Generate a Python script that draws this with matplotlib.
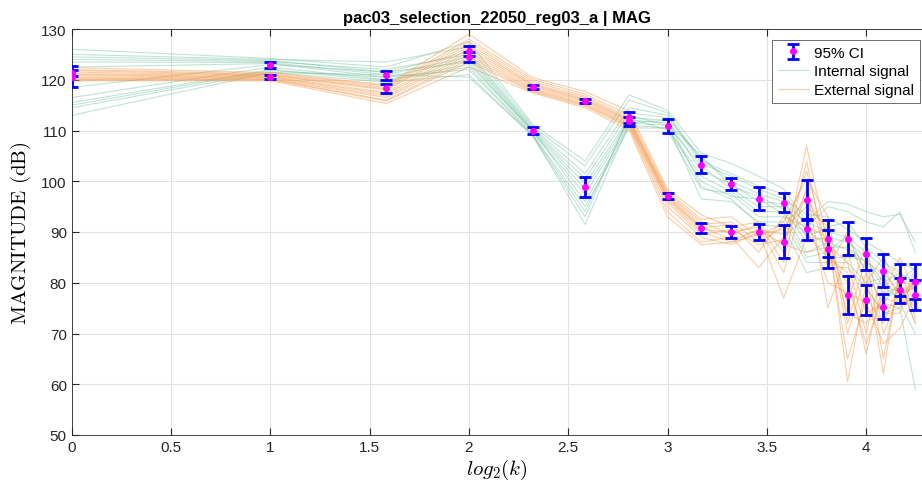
import numpy as np
import matplotlib
matplotlib.use("Agg")
from matplotlib import pyplot as plt

plt.rcParams['font.family'] = ['Liberation Sans', 'DejaVu Sans']
plt.rcParams['mathtext.fontset'] = 'cm'

# k = 1..19, plotted on log2 scale
k = np.arange(1, 20)

# internal signal, one row per realisation
internal = [
    [126.0, 124.2, 122.5, 127.5, 111.2, 104.0, 117.0, 114.0, 105.5, 103.5, 101.0, 98.5, 92.0, 96.0, 95.5, 94.0, 93.0, 93.5, 88.0],
    [125.0, 124.0, 123.5, 126.5, 110.8, 103.0, 116.0, 113.5, 104.0, 101.5, 99.0, 97.5, 91.0, 95.0, 94.0, 92.0, 91.0, 94.0, 86.0],
    [124.5, 123.8, 121.5, 125.5, 110.5, 101.5, 114.5, 113.0, 103.5, 101.0, 98.5, 96.5, 93.5, 93.0, 90.5, 88.0, 86.0, 84.0, 82.5],
    [124.0, 123.6, 122.0, 125.0, 110.2, 100.5, 113.5, 112.5, 104.5, 100.0, 97.5, 96.0, 89.0, 91.0, 92.0, 87.0, 84.0, 82.0, 80.0],
    [123.5, 123.4, 121.0, 124.5, 110.0, 99.5, 112.5, 112.0, 102.0, 99.5, 96.0, 95.5, 92.0, 90.0, 89.0, 86.0, 83.0, 80.5, 83.0],
    [122.5, 123.2, 120.5, 124.0, 109.8, 98.5, 112.0, 111.5, 105.0, 99.0, 97.0, 94.5, 88.0, 89.0, 88.0, 85.0, 80.0, 82.0, 78.0],
    [118.5, 123.0, 121.5, 123.5, 109.5, 97.5, 111.5, 111.0, 103.0, 98.5, 95.0, 95.0, 90.5, 87.0, 87.0, 84.0, 82.0, 78.0, 76.0],
    [116.5, 122.5, 120.0, 123.0, 110.0, 96.0, 111.0, 110.5, 101.0, 98.0, 94.0, 94.0, 86.0, 88.0, 86.5, 83.0, 78.0, 79.0, 74.0],
    [115.5, 122.0, 119.8, 122.5, 109.2, 95.0, 110.5, 110.5, 100.0, 97.0, 96.5, 93.5, 89.5, 85.0, 85.0, 84.5, 79.0, 77.0, 80.0],
    [115.0, 121.8, 120.5, 122.0, 109.0, 94.0, 112.5, 110.0, 98.5, 97.5, 93.0, 93.0, 85.0, 86.0, 89.5, 82.0, 76.0, 80.0, 72.0],
    [114.5, 121.5, 119.5, 121.0, 108.8, 93.0, 113.0, 111.0, 96.5, 96.0, 92.0, 92.0, 84.0, 84.0, 84.0, 80.0, 81.0, 76.0, 70.0],
    [113.0, 121.4, 121.0, 120.5, 109.0, 91.5, 111.5, 112.0, 99.0, 96.5, 91.5, 91.0, 82.0, 83.0, 83.0, 79.0, 74.0, 75.0, 59.0],
]

# external signal
external = [
    [122.4, 121.4, 119.0, 129.0, 120.4, 117.7, 113.8, 98.4, 93.4, 91.0, 92.0, 86.0, 107.0, 87.5, 84.0, 70.0, 83.0, 77.0, 79.5],
    [122.0, 121.2, 118.8, 128.0, 120.0, 117.2, 113.0, 98.0, 92.5, 93.0, 89.0, 92.0, 100.5, 93.0, 72.0, 85.0, 65.0, 82.0, 76.0],
    [121.8, 121.0, 118.5, 127.5, 119.6, 116.8, 112.5, 97.6, 92.0, 89.5, 91.5, 84.0, 104.0, 83.0, 90.0, 79.0, 74.0, 74.0, 82.0],
    [121.5, 120.9, 118.2, 127.0, 119.2, 116.5, 112.2, 97.3, 91.5, 92.0, 88.0, 91.0, 96.5, 90.0, 60.5, 80.0, 85.0, 79.0, 75.0],
    [121.2, 120.8, 118.0, 126.5, 119.0, 116.2, 112.0, 97.0, 91.0, 88.5, 90.5, 89.5, 102.0, 86.0, 80.0, 68.0, 78.0, 85.0, 78.0],
    [121.0, 120.6, 117.5, 126.0, 118.8, 116.0, 111.8, 96.8, 90.8, 91.5, 86.0, 93.0, 91.0, 89.0, 76.0, 88.0, 70.0, 78.0, 80.0],
    [120.8, 120.5, 117.2, 125.5, 118.5, 115.8, 111.5, 96.5, 90.5, 90.0, 91.0, 82.0, 99.0, 75.0, 86.0, 74.0, 76.0, 75.0, 83.0],
    [120.5, 120.4, 116.8, 125.0, 118.2, 115.5, 111.2, 96.2, 90.0, 88.0, 89.5, 90.5, 95.0, 91.0, 70.0, 82.0, 62.0, 83.0, 73.0],
    [120.3, 120.2, 116.5, 124.5, 118.0, 115.2, 111.0, 95.8, 89.5, 90.5, 87.5, 88.5, 98.0, 85.0, 82.0, 66.0, 80.0, 78.0, 79.0],
    [120.1, 120.1, 116.0, 124.0, 117.8, 115.0, 110.8, 95.0, 89.0, 87.5, 90.0, 77.0, 89.0, 88.5, 65.0, 77.0, 72.0, 80.0, 72.0],
    [120.0, 120.0, 115.8, 123.5, 117.6, 114.8, 110.5, 94.0, 88.0, 89.0, 83.0, 89.0, 93.0, 80.0, 78.0, 76.0, 68.0, 71.0, 77.5],
    [119.8, 119.8, 115.3, 122.5, 117.4, 114.5, 110.0, 93.0, 87.5, 88.0, 90.5, 87.5, 86.0, 87.0, 74.0, 72.0, 77.0, 76.0, 77.0],
]

# mean and 95% CI half widths
int_mean = [120.6, 122.9, 120.9, 124.5, 110.0, 98.8, 112.6, 110.9, 103.3, 99.5, 96.6, 95.8, 90.5, 88.7, 88.7, 85.7, 82.4, 80.5, 80.2]
int_ci = [2.1, 0.6, 0.9, 1.0, 0.6, 2.0, 1.1, 1.4, 1.7, 1.2, 2.3, 1.9, 2.0, 3.7, 3.2, 3.2, 3.2, 3.2, 3.5]
ext_mean = [121.4, 120.6, 118.3, 125.7, 118.6, 115.8, 111.8, 97.1, 90.8, 90.0, 90.0, 88.1, 96.3, 86.6, 77.6, 76.6, 75.3, 78.5, 77.6]
ext_ci = [0.6, 0.4, 0.9, 1.0, 0.4, 0.4, 0.9, 0.6, 1.0, 1.2, 1.6, 3.3, 3.9, 3.7, 3.7, 3.0, 2.4, 2.5, 3.0]

x = np.log2(k)

fig = plt.figure(figsize=(9.22, 4.89), dpi=100)
ax = fig.add_axes([71.7/922, 53/489, 1 - 71.7/922, 406/489])

for i, row in enumerate(internal):
    ax.plot(x, row, color='#66bb98', lw=0.8, alpha=0.4,
            label='Internal signal' if i == 0 else None)
for i, row in enumerate(external):
    ax.plot(x, row, color='#f5923e', lw=0.8, alpha=0.45,
            label='External signal' if i == 0 else None)

ax.errorbar(x, int_mean, yerr=int_ci, fmt='o', color='b', ecolor='b', elinewidth=2,
            capsize=4.5, capthick=2, mfc='magenta', mec='magenta', ms=4, zorder=5,
            label='95% CI')
ax.errorbar(x, ext_mean, yerr=ext_ci, fmt='o', color='b', ecolor='b', elinewidth=2,
            capsize=4.5, capthick=2, mfc='magenta', mec='magenta', ms=4, zorder=5)

ax.set_xlim(0, (922 - 71.7) / 198.6)
ax.set_ylim(50, 130)
ax.set_xticks(np.arange(0, 4.01, 0.5))
ax.set_xticklabels(['0', '0.5', '1', '1.5', '2', '2.5', '3', '3.5', '4'])
ax.set_yticks(np.arange(50, 131, 10))
ax.grid(True, color='#e3e3e3', lw=0.8)
ax.set_axisbelow(True)
ax.tick_params(direction='in', top=True, right=False, length=5, color='#262626',
               labelsize=11, labelcolor='#262626')
for s in ['left', 'bottom', 'top']:
    ax.spines[s].set_color('#262626')
    ax.spines[s].set_linewidth(0.6)
ax.spines['right'].set_visible(False)

ax.set_title('pac03_selection_22050_reg03_a | MAG', fontsize=12, fontweight='bold', pad=5)
ax.set_xlabel(r'$log_2(k)$', fontsize=15, labelpad=2)
ax.set_ylabel(r'$\mathrm{MAGNITUDE\ (dB)}$', fontsize=15, labelpad=6)

h, l = ax.get_legend_handles_labels()
order = [l.index('95% CI'), l.index('Internal signal'), l.index('External signal')]
leg = ax.legend([h[i] for i in order], [l[i] for i in order], loc='upper right',
                bbox_to_anchor=(1.003, 0.985), fontsize=11, fancybox=False,
                edgecolor='#555555', framealpha=1, borderpad=0.4,
                handlelength=2.0, labelspacing=0.3, handletextpad=0.35, borderaxespad=0.3)
leg.get_frame().set_linewidth(0.6)

plt.savefig('out.png', dpi=100)
